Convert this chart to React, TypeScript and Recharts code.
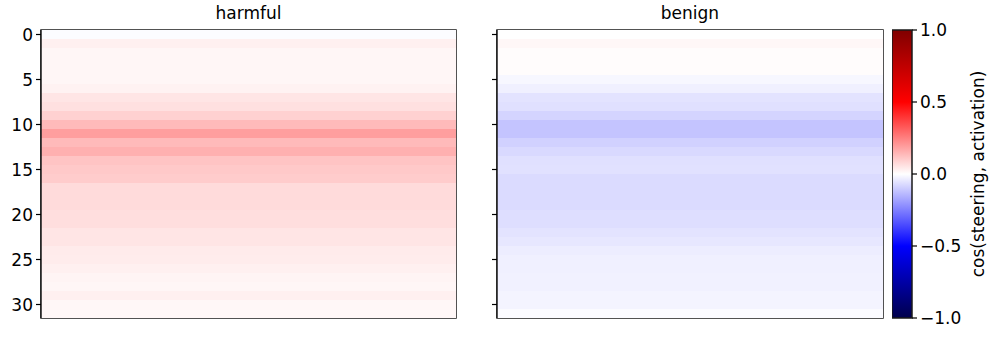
import React from "react";
import { BarChart, Bar, XAxis, YAxis, Cell, ReferenceArea } from "recharts";

// layer index on the y axis
const layers = [
  0, 1, 2, 3, 4, 5, 6, 7, 8, 9, 10, 11, 12, 13, 14, 15,
  16, 17, 18, 19, 20, 21, 22, 23, 24, 25, 26, 27, 28, 29, 30, 31,
];

// cos(steering, activation) per layer
const harmful = [
  -0.005, 0.03, 0.018, 0.018, 0.018, 0.018, 0.025, 0.05, 0.06, 0.09, 0.135,
  0.19, 0.135, 0.155, 0.115, 0.105, 0.1, 0.07, 0.07, 0.07, 0.065, 0.065,
  0.05, 0.05, 0.04, 0.037, 0.03, 0.022, 0.017, 0.03, 0.015, 0.015,
];
const benign = [
  0.0, 0.015, 0.005, 0.005, 0.005, -0.015, -0.03, -0.055, -0.06, -0.085,
  -0.115, -0.115, -0.09, -0.075, -0.06, -0.058, -0.07, -0.07, -0.07, -0.07,
  -0.065, -0.065, -0.055, -0.048, -0.035, -0.03, -0.03, -0.027, -0.027,
  -0.022, -0.022, -0.007,
];

const cbTicks = [-1, -0.5, 0, 0.5, 1];
const cbRange = [{ name: "cb", range: [-1, 1] }];

const FONT = "'DejaVu Sans', sans-serif";
const SPINE = "#1a1a1a";

// matplotlib "seismic" colormap, vmin -1 .. vmax 1
function seismic(c: number) {
  const n = Math.min(1, Math.max(0, (c + 1) / 2));
  let r, g, b;
  if (n < 0.25) {
    r = 0; g = 0; b = 0.3 + 0.7 * (n / 0.25);
  } else if (n < 0.5) {
    const t = (n - 0.25) / 0.25;
    r = t; g = t; b = 1;
  } else if (n < 0.75) {
    const t = (n - 0.5) / 0.25;
    r = 1; g = 1 - t; b = 1 - t;
  } else {
    const t = (n - 0.75) / 0.25;
    r = 1 - 0.5 * t; g = 0; b = 0;
  }
  const h = (x: number) => Math.round(x * 255);
  return `rgb(${h(r)},${h(g)},${h(b)})`;
}

const fmt = (v: number) => (v < 0 ? "\u2212" : "") + Math.abs(v).toFixed(1);

function Heatmap({ title, values, left, plotWidth, labels }: {
  title: string; values: number[]; left: number; plotWidth: number; labels: boolean;
}) {
  const data = layers.map((l, i) => ({ layer: l, full: 1, c: values[i] }));
  return (
    <div style={{ position: "absolute", left, top: 0 }}>
      <div
        style={{
          position: "absolute", left: 41, top: 3, width: plotWidth,
          textAlign: "center", fontFamily: FONT, fontSize: 17, color: "#000",
        }}
      >
        {title}
      </div>
      <BarChart
        width={41 + plotWidth + 1}
        height={339}
        data={data}
        layout="vertical"
        barCategoryGap={0}
        margin={{ top: 30, right: 1, bottom: 21, left: 0 }}
      >
        <XAxis type="number" domain={[0, 1]} hide />
        <YAxis
          type="category"
          dataKey="layer"
          width={41}
          interval={4}
          tickSize={5}
          tickMargin={3}
          axisLine={{ stroke: SPINE, strokeWidth: 1.5 }}
          tickLine={{ stroke: "#000", strokeWidth: 1.2 }}
          tick={{ fill: "#000", fontSize: 17, fontFamily: FONT }}
          tickFormatter={labels ? undefined : () => ""}
        />
        <Bar dataKey="full" isAnimationActive={false}>
          {data.map((d) => (
            <Cell key={d.layer} fill={seismic(d.c)} />
          ))}
        </Bar>
        <ReferenceArea
          x1={0}
          x2={1}
          fill="none"
          stroke={SPINE}
          strokeWidth={1.5}
          strokeOpacity={1}
          ifOverflow="visible"
        />
      </BarChart>
    </div>
  );
}

export default function App() {
  return (
    <div style={{ position: "absolute", left: 0, top: 0, width: 997, height: 339, background: "#fff", overflow: "hidden" }}>
      <Heatmap title="harmful" values={harmful} left={0} plotWidth={415} labels />
      <Heatmap title="benign" values={benign} left={456} plotWidth={386} labels={false} />
      <div style={{ position: "absolute", left: 892, top: 0 }}>
        <BarChart
          width={104}
          height={339}
          data={cbRange}
          barCategoryGap={0}
          margin={{ top: 30, right: 0, bottom: 21, left: 0 }}
        >
          <defs>
            <linearGradient id="seismic" x1="0" y1="0" x2="0" y2="1">
              <stop offset="0" stopColor="#800000" />
              <stop offset="0.25" stopColor="#ff0000" />
              <stop offset="0.5" stopColor="#ffffff" />
              <stop offset="0.75" stopColor="#0000ff" />
              <stop offset="1" stopColor="#00004c" />
            </linearGradient>
          </defs>
          <XAxis dataKey="name" hide />
          <YAxis
            orientation="right"
            type="number"
            domain={[-1, 1]}
            ticks={cbTicks}
            width={48}
            tickSize={5}
            tickMargin={3}
            axisLine={false}
            tickLine={{ stroke: "#000", strokeWidth: 1.2 }}
            tick={{ fill: "#000", fontSize: 17, fontFamily: FONT, textAnchor: "start" }}
            tickFormatter={fmt}
          />
          <YAxis
            yAxisId="label"
            orientation="right"
            type="number"
            domain={[-1, 1]}
            width={36}
            tick={false}
            tickLine={false}
            axisLine={false}
            label={{
              value: "cos(steering, activation)",
              angle: -90,
              position: "center",
              fill: "#000",
              fontSize: 17,
              fontFamily: FONT,
            }}
          />
          <Bar dataKey="range" fill="url(#seismic)" stroke={SPINE} strokeWidth={1.5} isAnimationActive={false} />
        </BarChart>
      </div>
    </div>
  );
}
